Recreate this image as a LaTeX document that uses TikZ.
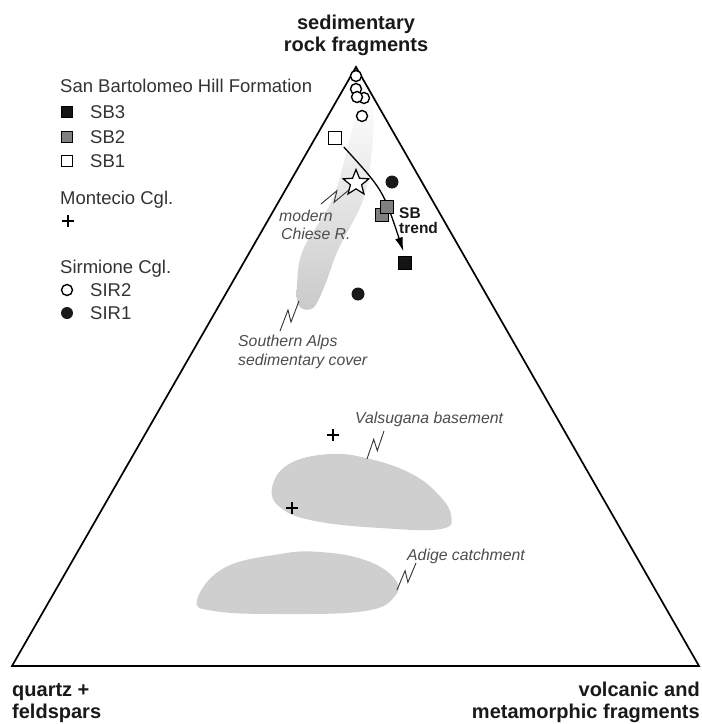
\documentclass[tikz,border=0pt]{standalone}
\usepackage{fontspec}
\setmainfont{Liberation Sans}
\usetikzlibrary{shapes.geometric,arrows.meta,calc}
\newcommand\zzlink[2]{\draw[zzline] (#1) -- ($(#1)!0.62!(#2)!4.5pt!90:(#2)$) -- ($(#1)!0.38!(#2)!4.5pt!-90:(#2)$) -- (#2);}
\begin{document}
\begin{tikzpicture}[x=1pt,y=-1pt,
  tri/.style={line width=1.7pt, line join=miter},
  axlbl/.style={font=\fontsize{20}{23}\selectfont\bfseries, text=black!90, inner sep=0pt},
  legtxt/.style={font=\fontsize{18.5}{22}\selectfont, text=black!80, inner sep=0pt, anchor=base west},
  itlbl/.style={font=\fontsize{15.8}{19}\selectfont\itshape, text=black!70, inner sep=0pt, anchor=base west},
  trendlbl/.style={font=\fontsize{15.5}{16}\selectfont\bfseries, text=black!90, inner sep=0pt, anchor=base west},
  sqmark/.style={rectangle, draw=black, line width=1.2pt, minimum size=12.5pt, inner sep=0pt},
  opencirc/.style={circle, draw=black, fill=white, line width=1.4pt, minimum size=11pt, inner sep=0pt},
  dotmark/.style={circle, fill=black!90, minimum size=13pt, inner sep=0pt},
  plusmark/.style={minimum size=12pt, inner sep=0pt,
     path picture={\draw[line width=2.3pt] (path picture bounding box.north) -- (path picture bounding box.south)
        (path picture bounding box.west) -- (path picture bounding box.east);}},
  starmark/.style={star, star points=5, star point ratio=2.3, minimum size=27pt, draw=black, fill=white, line width=1.2pt, inner sep=0pt},
  zzline/.style={line width=0.9pt, black!80, line join=miter},
  blob/.style={fill=gray!38},
  trendarrow/.style={line width=1.3pt, -{Latex[length=14pt,width=8pt]}}
]
\useasboundingbox (0,0) rectangle (702,724);

% shaded fields
\shade[top color=white, middle color=gray!24, bottom color=gray!42]
  plot[smooth cycle, tension=0.6] coordinates {(366,92) (373,110) (372,150) (363,200) (338,250) (325,285) (313,308) (299,306) (297,285) (303,250) (332,200) (347,150) (357,110)};
\fill[blob] plot[smooth cycle, tension=0.7] coordinates {(272,488) (289,464) (330,454) (370,459) (410,473) (437,493) (451,515) (441,529) (380,528) (315,521) (281,508)};
\fill[blob] plot[smooth cycle, tension=0.7] coordinates {(197,600) (224,568) (280,554) (320,552) (365,560) (394,578) (395,596) (365,611) (280,614) (214,611)};

% triangle
\coordinate (A) at (356,67);
\coordinate (BL) at (12,666);
\coordinate (BR) at (699,666);
\draw[tri] (A) -- (BL) -- (BR) -- cycle;

% corner labels
\node[axlbl, anchor=base] (t1) at (356,29) {sedimentary};
\node[axlbl, anchor=base] (t2) at (356,51) {rock fragments};
\node[axlbl, anchor=base west] (q1) at (12,696) {quartz +};
\node[axlbl, anchor=base west] (q2) at (12,718) {feldspars};
\node[axlbl, anchor=base east] (v1) at (700,696) {volcanic and};
\node[axlbl, anchor=base east] (v2) at (700,718) {metamorphic fragments};

% legend
\node[legtxt] (lg1) at (60,92) {San Bartolomeo Hill Formation};
\node[sqmark, fill=black!92, minimum size=11.5pt] (lsb3) at (67,112) {};
\node[legtxt] (lsb3t) at (90,118) {SB3};
\node[sqmark, fill=black!50, minimum size=11.5pt] (lsb2) at (67,137) {};
\node[legtxt] (lsb2t) at (90,143) {SB2};
\node[sqmark, fill=white, minimum size=11.5pt] (lsb1) at (67,161) {};
\node[legtxt] (lsb1t) at (90,167) {SB1};
\node[legtxt] (lg2) at (60,204) {Montecio Cgl.};
\node[plusmark] (lplus) at (68,221) {};
\node[legtxt] (lg3) at (60,273) {Sirmione Cgl.};
\node[opencirc] (lsir2) at (67,290) {};
\node[legtxt] (lsir2t) at (90,296) {SIR2};
\node[dotmark, minimum size=12pt] (lsir1) at (67,313) {};
\node[legtxt] (lsir1t) at (90,319) {SIR1};

% field labels
\node[itlbl] (mod1) at (279,221) {modern};
\node[itlbl] (mod2) at (281,239) {Chiese R.};
\node[itlbl] (sa1) at (238,346) {Southern Alps};
\node[itlbl] (sa2) at (238,365) {sedimentary cover};
\node[itlbl] (val) at (355,423) {Valsugana basement};
\node[itlbl] (adi) at (407,560) {Adige catchment};

% lightning leaders
\coordinate (zc1) at (321,204); \coordinate (zc2) at (350,189);
\coordinate (zs1) at (299,301); \coordinate (zs2) at (280,331);
\coordinate (zv1) at (384,431); \coordinate (zv2) at (367,459);
\coordinate (za1) at (416,563); \coordinate (za2) at (397,590);
\zzlink{zc1}{zc2}
\zzlink{zs1}{zs2}
\zzlink{zv1}{zv2}
\zzlink{za1}{za2}

% data points
\node[opencirc] (c1) at (356,76) {};
\node[opencirc] (c2) at (356,89) {};
\node[opencirc] (c4) at (364,98) {};
\node[opencirc] (c3) at (357,97) {};
\node[opencirc] (c5) at (362,116) {};
\node[dotmark] (d1) at (392,182) {};
\node[dotmark] (d2) at (358,294) {};
\node[starmark] (st) at (356,183) {};
\node[plusmark] (p1) at (333,435) {};
\node[plusmark] (p2) at (292,508) {};

\node[sqmark, fill=white] (sb1) at (335,138) {};
\node[sqmark, fill=black!92] (sb3) at (405,263) {};
\draw[trendarrow, shorten <=3pt, shorten >=5pt] (sb1.south east) .. controls (383,190) .. (sb3.north);
\node[sqmark, fill=black!50] (sb2b) at (382,215) {};
\node[sqmark, fill=black!50] (sb2a) at (387,207) {};
\node[trendlbl] (tr1) at (399,218) {SB};
\node[trendlbl] (tr2) at (399,233) {trend};
\end{tikzpicture}
\end{document}
